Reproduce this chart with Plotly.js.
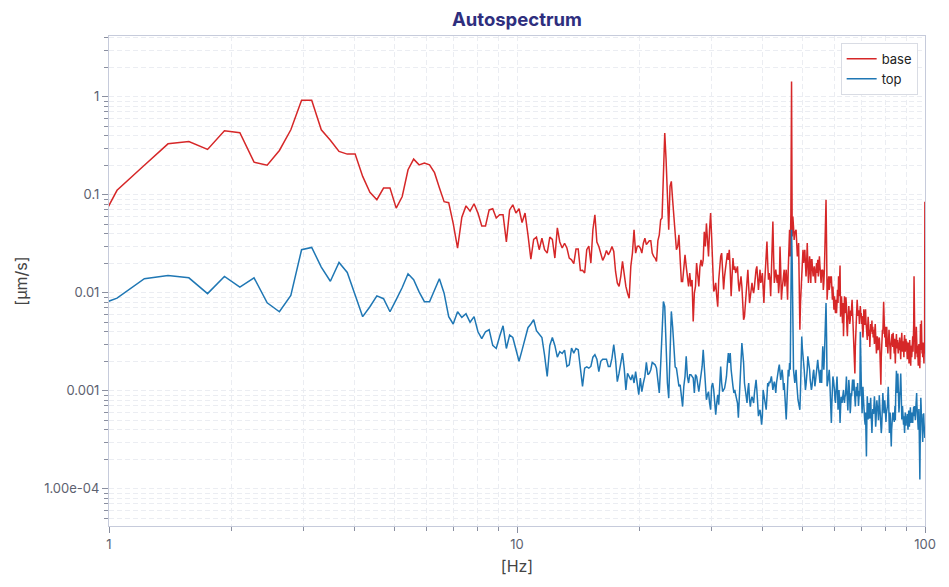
<!DOCTYPE html>
<html>
<head>
<meta charset="utf-8">
<script src="https://cdn.plot.ly/plotly-3.0.1.min.js"></script>
<style>html,body{margin:0;padding:0;background:#fff;}#chart{width:949px;height:587px;}</style>
</head>
<body>
<div id="chart"></div>
<script>
// Frequency grid: first bin and bin width (Hz)
const freqStart = 0.872;
const freqStep = 0.1744;

// base autospectrum [µm/s], bins k = 5 ... 573
const baseValues = [
0.027, 0.111, 0.2, 0.331, 0.35,
0.29, 0.45, 0.43, 0.215, 0.2, 0.283, 0.46, 0.92, 0.92, 0.46,
0.36, 0.277, 0.26, 0.26, 0.154, 0.106, 0.089, 0.117, 0.117, 0.073,
0.096, 0.18, 0.231, 0.202, 0.211, 0.202, 0.168, 0.118, 0.085, 0.083,
0.051, 0.0286, 0.059, 0.077, 0.068, 0.081, 0.065, 0.048, 0.048, 0.070,
0.072, 0.058, 0.0625, 0.0625, 0.033, 0.070, 0.079, 0.065, 0.072, 0.052,
0.065, 0.039, 0.022, 0.035, 0.037, 0.0275, 0.036, 0.0275, 0.0254, 0.037,
0.035, 0.0226, 0.046, 0.033, 0.0286, 0.032, 0.0286, 0.0226, 0.0217, 0.0198,
0.0279, 0.0279, 0.0169, 0.017, 0.0159, 0.0275, 0.030, 0.0201, 0.044, 0.0625,
0.033, 0.0297, 0.0254, 0.0214, 0.0235, 0.027, 0.0244, 0.0264, 0.0297, 0.0264,
0.0165, 0.0126, 0.0116, 0.0147, 0.0209, 0.0147, 0.0116, 0.0099, 0.0088, 0.0186,
0.0254, 0.044, 0.0254, 0.0297, 0.030, 0.0286, 0.0254, 0.032, 0.036, 0.031,
0.033, 0.034, 0.034, 0.0254, 0.0235, 0.0226, 0.0209, 0.034, 0.039, 0.0556,
0.058, 0.228, 0.426, 0.228, 0.082, 0.044, 0.122, 0.137, 0.089, 0.060,
0.0475, 0.0275, 0.0297, 0.039, 0.0217, 0.013, 0.013, 0.0186, 0.0244, 0.0186,
0.0147, 0.0116, 0.0159, 0.0116, 0.0135, 0.0051, 0.0099, 0.0116, 0.0201, 0.0147,
0.0116, 0.0186, 0.0217, 0.0186, 0.0217, 0.042, 0.0297, 0.051, 0.034, 0.0235,
0.044, 0.065, 0.037, 0.0217, 0.0103, 0.011, 0.0126, 0.0092, 0.0072, 0.0135,
0.0201, 0.0235, 0.0254, 0.0159, 0.0108, 0.0147, 0.017, 0.0217, 0.0254, 0.0217,
0.0275, 0.0172, 0.0092, 0.0147, 0.0226, 0.0172, 0.0186, 0.0159, 0.0172, 0.0186,
0.0126, 0.0103, 0.0126, 0.0147, 0.0116, 0.00785, 0.0053, 0.0057, 0.00785, 0.0107,
0.0147, 0.0172, 0.0116, 0.00785, 0.0092, 0.0107, 0.0126, 0.0107, 0.0099, 0.0116,
0.0147, 0.0172, 0.0186, 0.0126, 0.0107, 0.0136, 0.0172, 0.0126, 0.0136, 0.0159,
0.0107, 0.00785, 0.0126, 0.0172, 0.0235, 0.0334, 0.0201, 0.0136, 0.0159, 0.0136,
0.0092, 0.0147, 0.0275, 0.0534, 0.0235, 0.0126, 0.0147, 0.0172, 0.0147, 0.0126,
0.0153, 0.0099, 0.0126, 0.0297, 0.0172, 0.0085, 0.0107, 0.0126, 0.0147, 0.0172,
0.0116, 0.0147, 0.0172, 0.0126, 0.0085, 0.0172, 0.0321, 0.044, 0.0235, 0.065,
1.43, 0.0376, 0.060, 0.047, 0.0346, 0.0407, 0.042, 0.044, 0.0321, 0.0235,
0.0275, 0.0321, 0.0116, 0.0042, 0.00785, 0.0116, 0.0172, 0.0201, 0.0275, 0.0201,
0.0235, 0.0275, 0.0201, 0.0147, 0.0201, 0.0321, 0.0201, 0.0126, 0.0172, 0.0235,
0.0172, 0.0126, 0.0217, 0.0217, 0.0172, 0.0147, 0.0172, 0.0186, 0.0147, 0.0126,
0.0172, 0.0201, 0.0159, 0.0217, 0.0147, 0.0186, 0.0235, 0.0186, 0.0159, 0.0126,
0.0172, 0.0147, 0.0172, 0.0107, 0.0126, 0.0172, 0.0275, 0.051, 0.089, 0.0321,
0.0085, 0.0107, 0.0126, 0.0147, 0.0107, 0.0116, 0.0147, 0.0126, 0.0147, 0.0107,
0.0085, 0.0116, 0.0085, 0.0067, 0.0092, 0.00785, 0.0062, 0.0085, 0.0062, 0.00785,
0.0107, 0.00785, 0.0147, 0.0092, 0.0147, 0.019, 0.0057, 0.00785, 0.0092, 0.0067,
0.0049, 0.00785, 0.0036, 0.0057, 0.0092, 0.0067, 0.0062, 0.009, 0.0075, 0.0045,
0.0036, 0.0052, 0.0068, 0.0073, 0.006, 0.0048, 0.0053, 0.0066, 0.0058, 0.0072,
0.0085, 0.0064, 0.0048, 0.0056, 0.0042, 0.003, 0.0015, 0.0028, 0.0045, 0.0053,
0.0066, 0.0085, 0.0072, 0.0058, 0.0066, 0.0062, 0.0048, 0.0055, 0.0073, 0.006,
0.0062, 0.0048, 0.0058, 0.0042, 0.0035, 0.0045, 0.0068, 0.0055, 0.0047, 0.0062,
0.0068, 0.005, 0.0042, 0.0038, 0.0033, 0.0045, 0.0057, 0.0048, 0.0036, 0.0042,
0.0028, 0.0035, 0.0048, 0.0045, 0.004, 0.0052, 0.0038, 0.0045, 0.0035, 0.0042,
0.0036, 0.003, 0.0042, 0.0048, 0.0038, 0.0032, 0.0024, 0.0029, 0.0036, 0.0033,
0.0026, 0.0031, 0.0028, 0.0035, 0.003, 0.0024, 0.0018, 0.00115, 0.0022, 0.0036,
0.0033, 0.0042, 0.0038, 0.0055, 0.0081, 0.006, 0.0045, 0.0035, 0.0045, 0.0039,
0.0028, 0.0034, 0.0045, 0.0035, 0.0028, 0.0024, 0.0031, 0.0033, 0.0042, 0.0036,
0.0029, 0.0024, 0.0021, 0.0028, 0.0035, 0.0031, 0.0038, 0.0032, 0.0028, 0.0039,
0.0033, 0.0028, 0.0024, 0.0034, 0.0021, 0.0019, 0.0026, 0.0033, 0.0038, 0.003,
0.0027, 0.0033, 0.0029, 0.0024, 0.0031, 0.0026, 0.003, 0.0035, 0.0026, 0.0024,
0.0021, 0.0029, 0.0036, 0.0039, 0.003, 0.0025, 0.0028, 0.0032, 0.0027, 0.0022,
0.0033, 0.0037, 0.0029, 0.0025, 0.003, 0.0034, 0.0028, 0.0032, 0.0024, 0.0021,
0.0026, 0.0031, 0.0028, 0.0024, 0.0019, 0.0027, 0.0033, 0.0025, 0.0021, 0.0018,
0.0026, 0.0029, 0.0022, 0.0027, 0.0031, 0.0036, 0.0025, 0.0031, 0.0048, 0.0147,
0.0035, 0.0026, 0.0021, 0.0028, 0.0024, 0.0032, 0.0045, 0.0035, 0.0026, 0.0022,
0.0029, 0.0024, 0.0018, 0.0023, 0.003, 0.0027, 0.0021, 0.0017, 0.0025, 0.0048,
0.0031, 0.0026, 0.0052, 0.0034, 0.0024, 0.0029, 0.0022, 0.0031, 0.0027, 0.0023,
0.0019, 0.0028, 0.0024, 0.085
];

// top autospectrum [µm/s], bins k = 5 ... 573
const topValues = [
0.0067, 0.0088, 0.0139, 0.015, 0.0142,
0.0098, 0.0147, 0.0114, 0.0142, 0.0079, 0.0064, 0.0094, 0.0275, 0.029, 0.0183,
0.0131, 0.0204, 0.0161, 0.0095, 0.0057, 0.0072, 0.0093, 0.0087, 0.0064, 0.0085,
0.0113, 0.0156, 0.0136, 0.0102, 0.0081, 0.0081, 0.0105, 0.0139, 0.0099, 0.0057,
0.0048, 0.0064, 0.0056, 0.0061, 0.005, 0.0057, 0.004, 0.0034, 0.004, 0.0042,
0.0029, 0.0027, 0.0036, 0.0046, 0.0027, 0.0037, 0.0035, 0.0026, 0.002, 0.0026,
0.0033, 0.0044, 0.0048, 0.0053, 0.0041, 0.0038, 0.0035, 0.0023, 0.0014, 0.0029,
0.0035, 0.0029, 0.0022, 0.0025, 0.0024, 0.0026, 0.00177, 0.00184, 0.00273, 0.00242,
0.0027, 0.00262, 0.0017, 0.00111, 0.0017, 0.00175, 0.0017, 0.00177, 0.0022, 0.00233,
0.0021, 0.00157, 0.002, 0.0021, 0.0021, 0.0021, 0.00177, 0.00177, 0.00215, 0.00295,
0.00207, 0.00124, 0.00151, 0.002, 0.00242, 0.0017, 0.00102, 0.00151, 0.0014, 0.00129,
0.00146, 0.0012, 0.00157, 0.0012, 0.00091, 0.00135, 0.00098, 0.0012, 0.0014, 0.00195,
0.00146, 0.00151, 0.00164, 0.00195, 0.0019, 0.00184, 0.0017, 0.0012, 0.00095, 0.00184,
0.00453, 0.00815, 0.00724, 0.00262, 0.0012, 0.00084, 0.00242, 0.00645, 0.00453, 0.00262,
0.00175, 0.0017, 0.0014, 0.00111, 0.00115, 0.00087, 0.00069, 0.00111, 0.0014, 0.00225,
0.0014, 0.0012, 0.00146, 0.00146, 0.0014, 0.00135, 0.00095, 0.00146, 0.0014, 0.00111,
0.00098, 0.0012, 0.00151, 0.00177, 0.00262, 0.00177, 0.0014, 0.00081, 0.00091, 0.00098,
0.00075, 0.00064, 0.00111, 0.0012, 0.00102, 0.00081, 0.00057, 0.00075, 0.00091, 0.00072,
0.00111, 0.00177, 0.0012, 0.00098, 0.00102, 0.00106, 0.0012, 0.0014, 0.0019, 0.00242,
0.00192, 0.00242, 0.00164, 0.0012, 0.00111, 0.00095, 0.00102, 0.00091, 0.00081, 0.00075,
0.00053, 0.00087, 0.00129, 0.00207, 0.00307, 0.00242, 0.00192, 0.0012, 0.00102, 0.00081,
0.00075, 0.00102, 0.0012, 0.00081, 0.00069, 0.00081, 0.00087, 0.00081, 0.00075, 0.00095,
0.00111, 0.00129, 0.00102, 0.00069, 0.00055, 0.0006, 0.00064, 0.00055, 0.00045, 0.00055,
0.00102, 0.00091, 0.00081, 0.00069, 0.00064, 0.00087, 0.0012, 0.00111, 0.00124, 0.0012,
0.00129, 0.0014, 0.0012, 0.00102, 0.00115, 0.00124, 0.00111, 0.00095, 0.0012, 0.0014,
0.00164, 0.0017, 0.00185, 0.00164, 0.00129, 0.00145, 0.00164, 0.0014, 0.00102, 0.0012,
0.00081, 0.0006, 0.00051, 0.00075, 0.0012, 0.00164, 0.0014, 0.00192, 0.00164, 0.0092,
0.044, 0.0201, 0.00207, 0.00164, 0.0014, 0.0012, 0.0014, 0.00164, 0.0012, 0.00087,
0.00081, 0.00075, 0.00069, 0.00064, 0.00102, 0.00192, 0.00358, 0.0027, 0.00207, 0.00177,
0.00164, 0.00129, 0.00102, 0.00115, 0.00129, 0.00164, 0.00225, 0.00207, 0.00192, 0.00164,
0.00129, 0.00115, 0.00102, 0.00111, 0.0014, 0.00151, 0.00164, 0.0014, 0.00111, 0.00124,
0.0014, 0.00164, 0.00192, 0.00207, 0.00177, 0.00164, 0.0014, 0.0012, 0.00164, 0.0014,
0.0012, 0.00192, 0.00285, 0.00207, 0.00164, 0.00225, 0.0042, 0.0067, 0.00785, 0.00358,
0.00111, 0.0012, 0.00129, 0.00151, 0.00164, 0.00129, 0.00102, 0.00069, 0.00047, 0.00075,
0.00111, 0.0014, 0.00129, 0.0012, 0.00102, 0.00081, 0.00075, 0.00095, 0.0012, 0.0014,
0.00102, 0.00064, 0.00081, 0.00102, 0.00075, 0.00047, 0.00064, 0.00087, 0.00081, 0.00075,
0.00087, 0.00095, 0.00102, 0.00081, 0.00075, 0.00087, 0.0009, 0.0011, 0.0014, 0.001,
0.00075, 0.00063, 0.0009, 0.00129, 0.0011, 0.0008, 0.00059, 0.0007, 0.00095, 0.00088,
0.0011, 0.0013, 0.001, 0.0012, 0.0013, 0.001, 0.0008, 0.00069, 0.0009, 0.0011,
0.00105, 0.00088, 0.0012, 0.0009, 0.0007, 0.00085, 0.001, 0.00088, 0.004, 0.0024,
0.0013, 0.00095, 0.00059, 0.0008, 0.0011, 0.00085, 0.0006, 0.0007, 0.0005, 0.00045,
0.0006, 0.00035, 0.000214, 0.0005, 0.00088, 0.0007, 0.00051, 0.0006, 0.00075, 0.00063,
0.00052, 0.0007, 0.00085, 0.0006, 0.00045, 0.00037, 0.0005, 0.00065, 0.00059, 0.00059,
0.0007, 0.00088, 0.00075, 0.0006, 0.00043, 0.0005, 0.00065, 0.0008, 0.0007, 0.00069,
0.0006, 0.0005, 0.00068, 0.0009, 0.00075, 0.00062, 0.00051, 0.00045, 0.00037, 0.00042,
0.0006, 0.00078, 0.00095, 0.0008, 0.0007, 0.00059, 0.00068, 0.0008, 0.0007, 0.00056,
0.00048, 0.00059, 0.00064, 0.00063, 0.0007, 0.0009, 0.0011, 0.0008, 0.00055, 0.00037,
0.0005, 0.0006, 0.00045, 0.00035, 0.00027, 0.0004, 0.00052, 0.00048, 0.0006, 0.00051,
0.00051, 0.0006, 0.00048, 0.00055, 0.0007, 0.0005, 0.0009, 0.0013, 0.0016, 0.0011,
0.00095, 0.0012, 0.0015, 0.0011, 0.0008, 0.0006, 0.0007, 0.0009, 0.00095, 0.0012,
0.0015, 0.0011, 0.0008, 0.00051, 0.00062, 0.0007, 0.00063, 0.0005, 0.00045, 0.00055,
0.00042, 0.00037, 0.0005, 0.0006, 0.00051, 0.00044, 0.00055, 0.00048, 0.00051, 0.00058,
0.00045, 0.0004, 0.00052, 0.00063, 0.0005, 0.00043, 0.0005, 0.0006, 0.00068, 0.00055,
0.00047, 0.00056, 0.0006, 0.00049, 0.00053, 0.00047, 0.00058, 0.00064, 0.00069, 0.00055,
0.0006, 0.0007, 0.00059, 0.0005, 0.0006, 0.00072, 0.00085, 0.00095, 0.0007, 0.00055,
0.00062, 0.0005, 0.0004, 0.00052, 0.00065, 0.0004, 0.00025, 0.000124, 0.0003, 0.0006,
0.00085, 0.0007, 0.0005, 0.00058, 0.00045, 0.00038, 0.0003, 0.00042, 0.0005, 0.00059,
0.00048, 0.00042, 0.00036, 0.00033
];

const seriesNames = ['base', 'top'];
const seriesColors = ['#d62728', '#1f77b4'];

const xTickVals = [1, 10, 100];
const xTickText = ['1', '10', '100'];
const yTickVals = [1, 0.1, 0.01, 0.001, 0.0001];
const yTickText = ['1', '0.1', '0.01', '0.001', '1.00e-04'];

function minorVals(lo, hi) {
  const out = [];
  for (let e = lo; e <= hi; e++) {
    for (let m = 2; m <= 9; m++) out.push(m * Math.pow(10, e));
  }
  return out;
}

const gridColor = '#ebedf2';
const lineColor = '#c6cbdb';
const tickFontColor = '#5d6170';
const font = 'Inter, "Noto Sans", "DejaVu Sans", sans-serif';

const traces = [baseValues, topValues].map((vals, i) => ({
  type: 'scatter',
  mode: 'lines',
  name: seriesNames[i],
  x0: freqStart,
  dx: freqStep,
  y: vals,
  line: {color: seriesColors[i], width: 1.5}
}));

const axisCommon = {
  showline: true,
  linecolor: lineColor,
  linewidth: 1,
  mirror: true,
  ticks: 'outside',
  ticklen: 6,
  tickcolor: '#8a8fa0',
  tickfont: {family: font, size: 13, color: tickFontColor},
  showgrid: true,
  gridcolor: gridColor,
  griddash: '5px,3px',
  gridwidth: 1,
  zeroline: false,
  tickmode: 'array'
};

const layout = {
  width: 949,
  height: 587,
  margin: {l: 109, r: 24, t: 36, b: 61},
  paper_bgcolor: '#ffffff',
  plot_bgcolor: '#ffffff',
  font: {family: font, color: '#333'},
  title: {
    text: '<b>Autospectrum</b>',
    font: {family: font, size: 18.5, color: '#2e2e7e'},
    x: 0.5447, xanchor: 'center', y: 0.966, yanchor: 'middle'
  },
  showlegend: true,
  legend: {
    x: 0.991, xanchor: 'right', y: 0.986, yanchor: 'top',
    bgcolor: '#ffffff',
    bordercolor: '#d9dce4',
    borderwidth: 1,
    font: {family: font, size: 13, color: '#222'},
    tracegroupgap: 2,
    itemwidth: 30
  },
  xaxis: Object.assign({}, axisCommon, {
    type: 'log',
    range: [0, 2],
    tickvals: xTickVals,
    ticktext: xTickText,
    title: {text: '[Hz]', font: {family: font, size: 16, color: '#444'}, standoff: 10},
    minor: {
      tickmode: 'array',
      tickvals: minorVals(0, 1),
      ticks: 'outside',
      ticklen: 4,
      tickcolor: '#8a8fa0',
      showgrid: true,
      gridcolor: gridColor,
      griddash: '5px,3px'
    }
  }),
  yaxis: Object.assign({}, axisCommon, {
    type: 'log',
    range: [-4.38, 0.62],
    tickvals: yTickVals,
    ticktext: yTickText,
    title: {text: '[µm/s]', font: {family: font, size: 16, color: '#444'}, standoff: 12},
    minor: {
      tickmode: 'array',
      tickvals: minorVals(-5, 0),
      ticks: 'outside',
      ticklen: 4,
      tickcolor: '#8a8fa0',
      showgrid: true,
      gridcolor: gridColor,
      griddash: '5px,3px'
    }
  })
};

Plotly.newPlot('chart', traces, layout, {displayModeBar: false, staticPlot: true});
</script>
</body>
</html>
